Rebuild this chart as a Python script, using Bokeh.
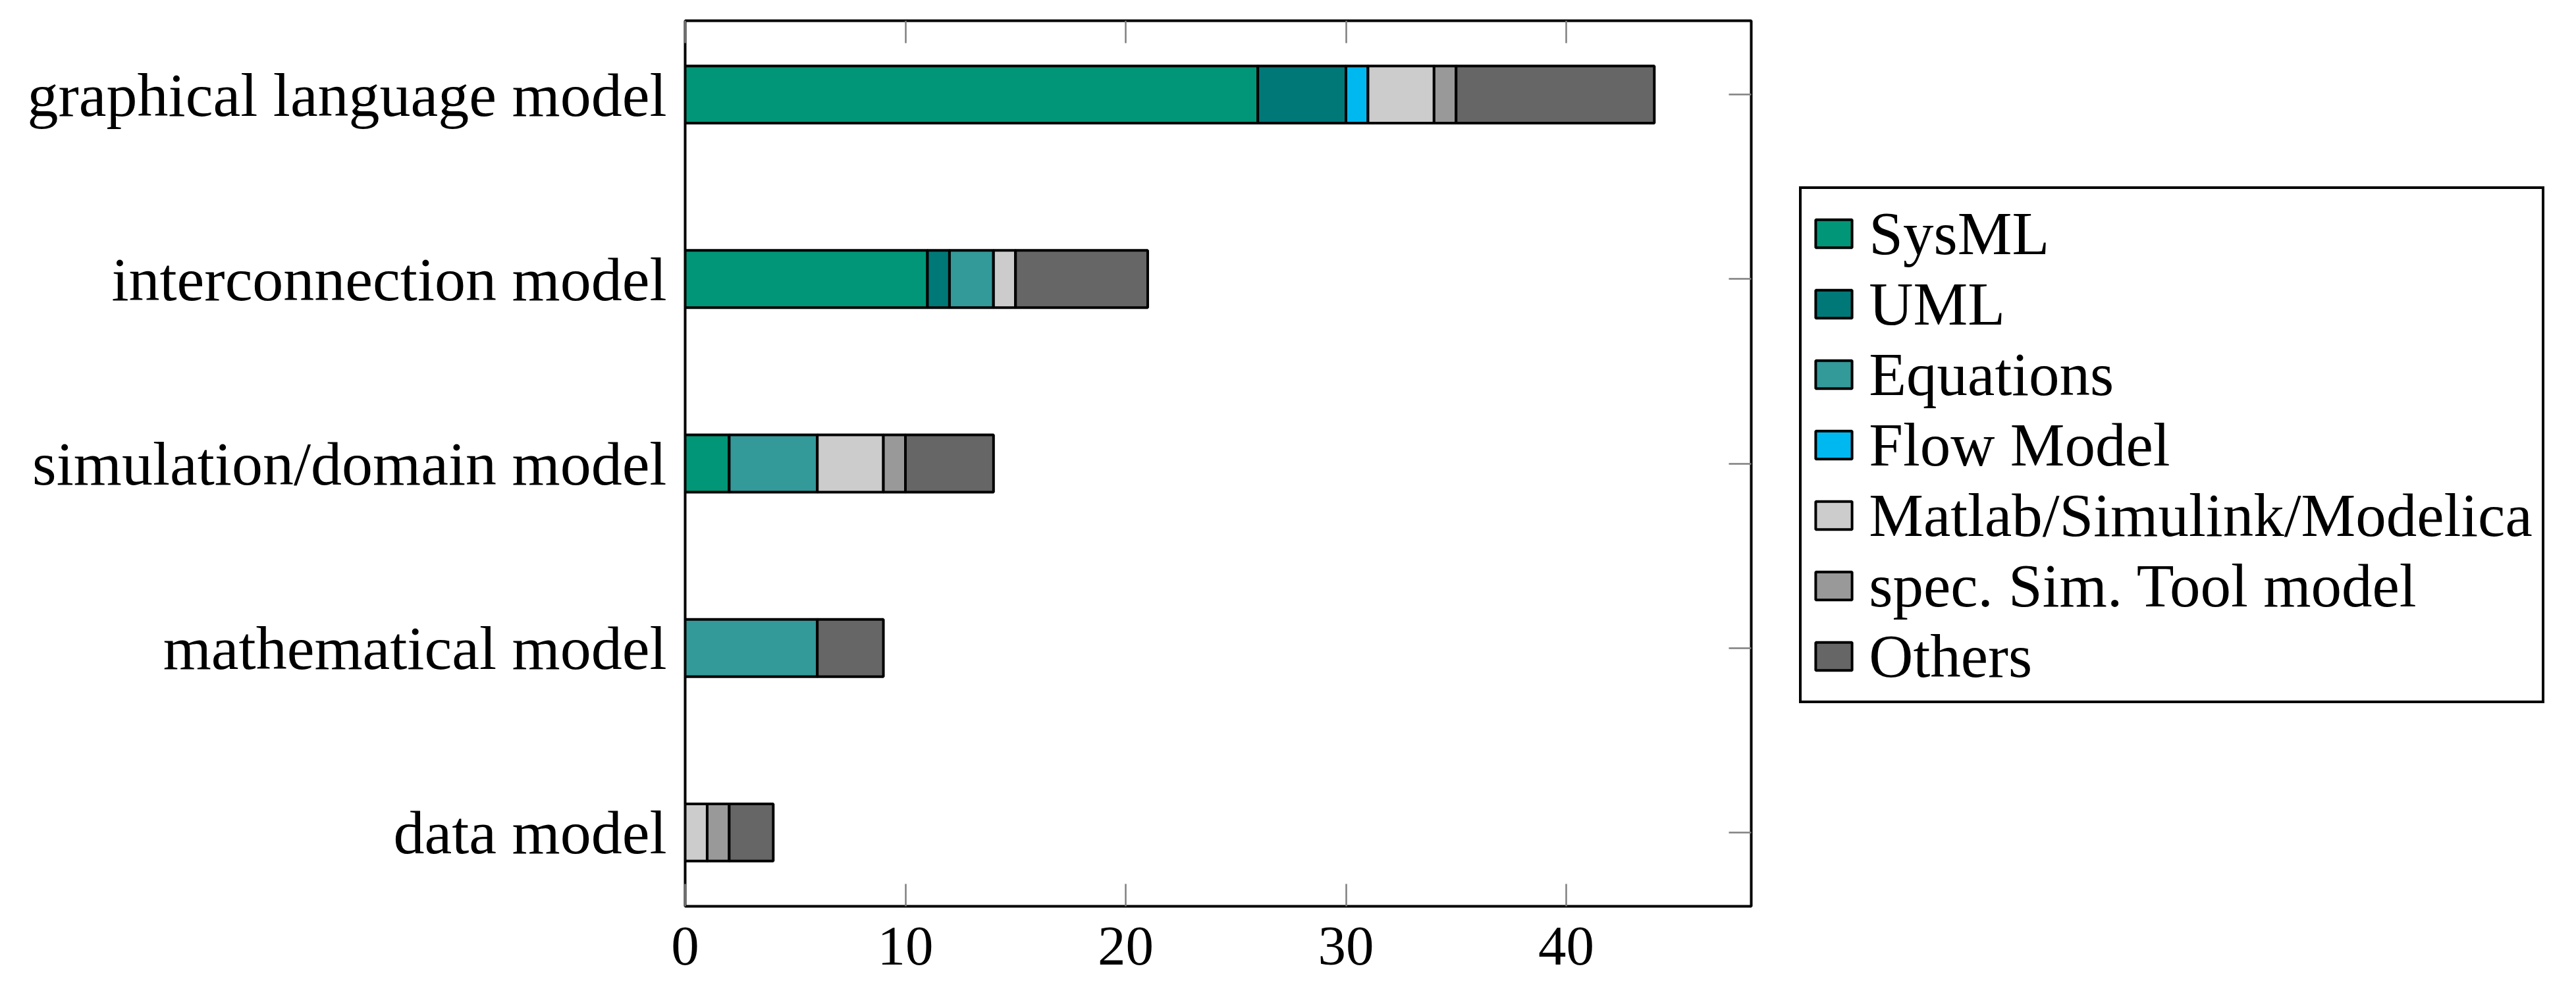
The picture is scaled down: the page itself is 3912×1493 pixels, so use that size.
from bokeh.plotting import figure
from bokeh.models import (ColumnDataSource, Range1d, FixedTicker, LinearAxis,
                          Legend, LegendItem)
from bokeh.embed import file_html
from bokeh.resources import INLINE

categories = ["data model", "mathematical model", "simulation/domain model",
              "interconnection model", "graphical language model"]
series = ["SysML", "UML", "Equations", "Flow Model",
          "Matlab/Simulink/Modelica", "spec. Sim. Tool model", "Others"]
sysml = [0, 0, 2, 11, 26]
uml = [0, 0, 0, 1, 4]
equations = [0, 6, 4, 2, 0]
flow = [0, 0, 0, 0, 1]
matlab = [1, 0, 3, 1, 3]
spec = [1, 0, 1, 0, 1]
others = [2, 3, 4, 6, 9]
colors = ["#009677", "#007878", "#339999", "#00B8F0", "#CCCCCC", "#999999", "#666666"]
x_ticks = [0, 10, 20, 30, 40]

FONT = "Liberation Serif"
TICKC = "#808080"

keys = ["s0", "s1", "s2", "s3", "s4", "s5", "s6"]
data = {"y": list(range(len(categories)))}
for k, vals in zip(keys, [sysml, uml, equations, flow, matlab, spec, others]):
    data[k] = vals
src = ColumnDataSource(data)

p = figure(frame_width=1619, frame_height=1345,
           x_range=Range1d(0, 48.4), y_range=Range1d(-0.4, 4.4),
           output_backend="svg", toolbar_location=None,
           min_border_left=1040, min_border_top=31, min_border_right=0,
           min_border_bottom=0, x_axis_location=None, y_axis_location=None)
p.grid.visible = False
p.outline_line_color = "black"
p.outline_line_width = 4
p.outline_line_alpha = 1
p.background_fill_color = "white"
p.border_fill_color = "white"

renderers = p.hbar_stack(keys, y="y", height=0.31, source=src, color=colors,
                         line_color="black", line_width=4)

def style_axis(ax, tick_in, size):
    ax.axis_line_color = None
    ax.major_tick_in = tick_in
    ax.major_tick_out = 0
    ax.minor_tick_in = 0
    ax.minor_tick_out = 0
    ax.major_tick_line_color = TICKC
    ax.major_tick_line_width = 2.5
    ax.major_label_text_font = FONT
    ax.major_label_text_font_size = size
    ax.major_label_text_color = "black"

bottom = LinearAxis(ticker=FixedTicker(ticks=x_ticks))
style_axis(bottom, 34, "85px")
bottom.major_label_text_line_height = 1.0
bottom.major_label_standoff = 32
p.add_layout(bottom, "below")

top = LinearAxis(ticker=FixedTicker(ticks=x_ticks))
style_axis(top, 34, "1px")
top.major_label_overrides = {t: "" for t in x_ticks}
top.major_label_standoff = 0
p.add_layout(top, "above")

left = LinearAxis(ticker=FixedTicker(ticks=list(range(len(categories)))))
style_axis(left, 0, "94px")
left.major_label_overrides = {i: c for i, c in enumerate(categories)}
left.major_label_standoff = 28
p.add_layout(left, "left")

right = LinearAxis(ticker=FixedTicker(ticks=list(range(len(categories)))))
style_axis(right, 34, "1px")
right.major_label_overrides = {i: "" for i in range(len(categories))}
right.major_label_standoff = 0
p.add_layout(right, "right")

legend = Legend(items=[LegendItem(label=s, renderers=[r]) for s, r in zip(series, renderers)],
                location=(-166, 308), orientation="vertical")
legend.label_text_font = FONT
legend.label_text_font_size = "93px"
legend.label_text_color = "black"
legend.glyph_width = 69
legend.glyph_height = 53
legend.label_standoff = 19
legend.spacing = 0
legend.padding = 14
legend.margin = 24
legend.border_line_color = "black"
legend.border_line_width = 4
legend.border_line_alpha = 1
legend.background_fill_color = "white"
legend.background_fill_alpha = 1
p.add_layout(legend, "right")

open("out.html", "w").write(file_html(p, INLINE))
